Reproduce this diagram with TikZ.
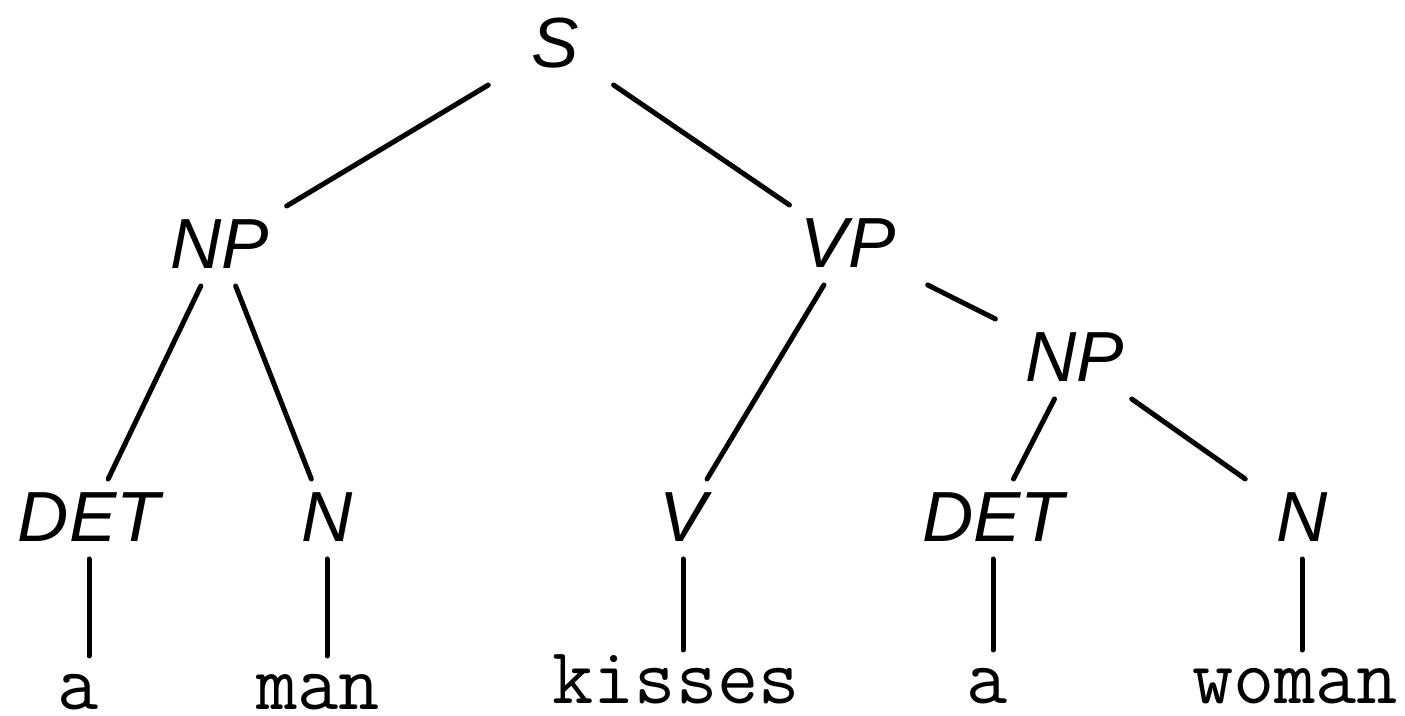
\documentclass[tikz,border=0pt]{standalone}
\usepackage{fontspec}
\setsansfont{Liberation Sans}

\begin{document}
\begin{tikzpicture}[x=0.5pt, y=-0.5pt, line width=2.5pt, line cap=round,
                    main node/.style={font=\sffamily\itshape\fontsize{35.5}{40}\selectfont,
                      inner sep=0pt, outer sep=0pt, minimum width=85pt,
                      text height=31.5pt, text depth=8.5pt, anchor=base},
                    leaf node/.style={font=\ttfamily\fontsize{40}{44}\selectfont,
                      inner sep=0pt, outer sep=0pt, text height=27pt, text depth=0pt, anchor=base}]

  \useasboundingbox (0,0) rectangle (1405,716);

  \node[main node] (1) at (555,68) {S};
  \node[main node] (2) at (220,269) {NP};
  \node[main node] (3) at (848,268) {VP};
  \node[main node] (4) at (1075,382) {NP};
  \node[main node] (5) at (89,542) {DET};
  \node[main node] (6) at (327,542) {N};
  \node[main node] (7) at (683,542) {V};
  \node[main node] (8) at (993,542) {DET};
  \node[main node] (9) at (1302,542) {N};

  \node[leaf node] (10) at (78,710) {a};
  \node[leaf node] (11) at (318,710) {man};
  \node[leaf node] (12) at (676,704) {kisses};
  \node[leaf node] (13) at (987,704) {a};
  \node[leaf node] (14) at (1295,704) {woman};

  \path
    (1) edge (2)
    (1) edge (3)
    (2) edge (5)
    (2) edge (6)
    (3) edge (7)
    (3) edge (4)
    (4) edge (8)
    (4) edge (9);

  % words hang straight down
  \path
    (5.south) edge (5.south |- 10.north)
    (6.south) edge (6.south |- 11.north)
    (7.south) edge (7.south |- 12.north)
    (8.south) edge (8.south |- 13.north)
    (9.south) edge (9.south |- 14.north);

\end{tikzpicture}
\end{document}
